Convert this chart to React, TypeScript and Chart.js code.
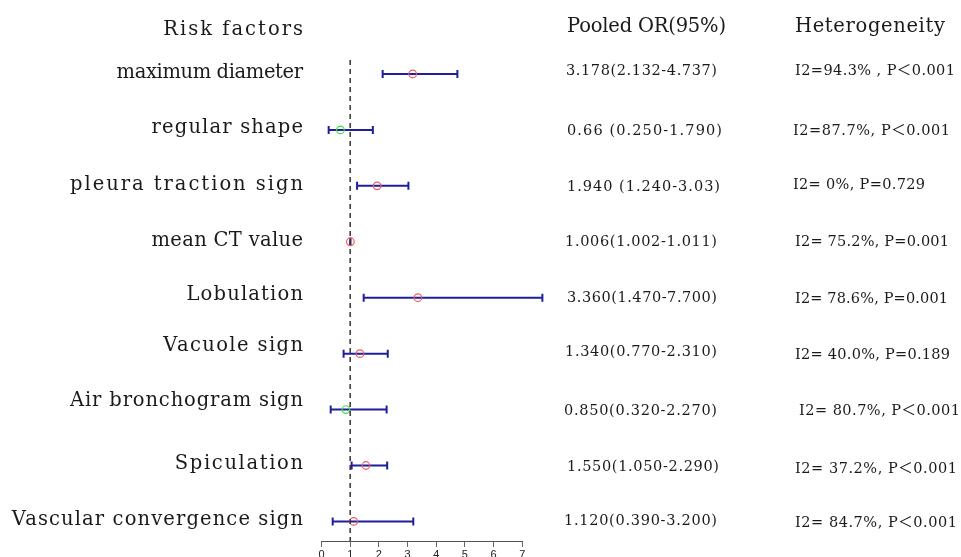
import React, { useEffect, useRef } from "react";
import { Chart, registerables } from "chart.js";

Chart.register(...registerables);

// ---- data ----
const factors = [
  "maximum diameter",
  "regular shape",
  "pleura traction sign",
  "mean CT value",
  "Lobulation",
  "Vacuole sign",
  "Air bronchogram sign",
  "Spiculation",
  "Vascular convergence sign",
];
const pooledOR = [3.178, 0.66, 1.94, 1.006, 3.36, 1.34, 0.85, 1.55, 1.12];
const lowerCI = [2.132, 0.25, 1.24, 1.002, 1.47, 0.77, 0.32, 1.05, 0.39];
const upperCI = [4.737, 1.79, 3.03, 1.011, 7.7, 2.31, 2.27, 2.29, 3.2];
const orLabels = [
  "3.178(2.132-4.737)",
  "0.66 (0.250-1.790)",
  "1.940 (1.240-3.03)",
  "1.006(1.002-1.011)",
  "3.360(1.470-7.700)",
  "1.340(0.770-2.310)",
  "0.850(0.320-2.270)",
  "1.550(1.050-2.290)",
  "1.120(0.390-3.200)",
];
const heteroLabels = [
  "I2=94.3% , P＜0.001",
  "I2=87.7%, P＜0.001",
  "I2= 0%, P=0.729",
  "I2= 75.2%, P=0.001",
  "I2= 78.6%, P=0.001",
  "I2= 40.0%, P=0.189",
  "I2= 80.7%, P＜0.001",
  "I2= 37.2%, P＜0.001",
  "I2= 84.7%, P＜0.001",
];
const headers = ["Risk factors", "Pooled OR(95%)", "Heterogeneity"];
const xMin = 0;
const xMax = 7;
const nullValue = 1;

// ---- styles / layout ----
const SERIF = '"DejaVu Serif", "Liberation Serif", "Noto Sans CJK SC", serif';
const TEXT_COLOR = "#1a1a1a";
const LABEL_RIGHT = 303;
const LABEL_CELL = 11.65;
const labelBaseOff = [4, 3, 4, 4, 2, -3, -4, 4, 4];
const orSpan: [number, number][] = [
  [566, 717], [567, 722], [567, 720], [565, 717], [567, 717],
  [565, 717], [564, 717], [567, 719], [564, 717],
];
const orBaseOff = [1, 5, 5, 4, 4, 2, 5, 6, 4];
const hetSpan: [number, number][] = [
  [795, 955], [793, 950], [793, 925], [795, 949], [795, 948],
  [795, 950], [799, 960], [795, 957], [795, 957],
];
const hetBaseOff = [1, 5, 3, 4, 5, 5, 5, 8, 6];

function drawFit(
  ctx: CanvasRenderingContext2D,
  text: string,
  x0: number,
  x1: number,
  y: number,
  font: string
) {
  ctx.save();
  ctx.font = font;
  (ctx as any).letterSpacing = "0px";
  const w = ctx.measureText(text).width;
  const n = Array.from(text).length;
  const ls = (x1 - x0 - w) / Math.max(1, n - 1);
  (ctx as any).letterSpacing = ls + "px";
  ctx.textAlign = "left";
  ctx.textBaseline = "alphabetic";
  ctx.fillStyle = TEXT_COLOR;
  ctx.fillText(text, x0, y);
  ctx.restore();
}

const whiskerPlugin = {
  id: "whiskers",
  beforeDatasetsDraw(chart: any) {
    const { ctx, scales } = chart;
    const xs = scales.x;
    const ys = scales.y;
    ctx.save();
    ctx.strokeStyle = "#1f1f9e";
    ctx.lineWidth = 2;
    for (let i = 0; i < pooledOR.length; i++) {
      const y = ys.getPixelForValue(i);
      const a = xs.getPixelForValue(lowerCI[i]);
      const b = xs.getPixelForValue(upperCI[i]);
      ctx.beginPath();
      ctx.moveTo(a, y);
      ctx.lineTo(b, y);
      ctx.moveTo(a, y - 4);
      ctx.lineTo(a, y + 4);
      ctx.moveTo(b, y - 4);
      ctx.lineTo(b, y + 4);
      ctx.stroke();
    }
    ctx.restore();
  },
};

const textPlugin = {
  id: "forestText",
  afterDraw(chart: any) {
    const { ctx, scales } = chart;
    const ys = scales.y;
    const labelFont = `19.5px ${SERIF}`;
    const headFont = `19.5px ${SERIF}`;
    const valFont = `14.5px ${SERIF}`;
    const hetFont = `14.5px ${SERIF}`;
    // headers
    drawFit(ctx, headers[0], LABEL_RIGHT - headers[0].length * LABEL_CELL, LABEL_RIGHT, 35, headFont);
    drawFit(ctx, headers[1], 567, 726, 32, headFont);
    drawFit(ctx, headers[2], 795, 945, 32, headFont);
    for (let i = 0; i < factors.length; i++) {
      const y = ys.getPixelForValue(i);
      const t = factors[i];
      drawFit(ctx, t, LABEL_RIGHT - t.length * LABEL_CELL, LABEL_RIGHT, y + labelBaseOff[i], labelFont);
      drawFit(ctx, orLabels[i], orSpan[i][0], orSpan[i][1], y + orBaseOff[i], valFont);
      drawFit(ctx, heteroLabels[i], hetSpan[i][0], hetSpan[i][1], y + hetBaseOff[i], hetFont);
    }
  },
};

export default function App() {
  const ref = useRef<HTMLCanvasElement | null>(null);
  useEffect(() => {
    if (!ref.current) return;
    const yTop = -0.25;
    const yBottom = 8.35;
    const chart = new Chart(ref.current, {
      type: "scatter",
      data: {
        datasets: [
          {
            label: "null line",
            data: [
              { x: nullValue, y: yTop },
              { x: nullValue, y: yBottom },
            ],
            showLine: true,
            borderColor: "#333333",
            borderWidth: 1.5,
            borderDash: [5, 4],
            pointRadius: 0,
          },
          {
            label: "Pooled OR",
            data: pooledOR.map((v, i) => ({ x: v, y: i })),
            pointRadius: 3.8,
            pointBorderWidth: 1.2,
            pointBackgroundColor: "rgba(0,0,0,0)",
            pointBorderColor: pooledOR.map((v) => (v < 1 ? "#3ee03e" : "#f05a5a")),
          },
        ],
      },
      options: {
        animation: false,
        responsive: false,
        layout: { padding: { left: 321.5, right: 438.7, top: 60, bottom: 0 } },
        plugins: { legend: { display: false }, tooltip: { enabled: false } },
        scales: {
          x: {
            type: "linear",
            min: xMin,
            max: xMax,
            ticks: {
              stepSize: 1,
              padding: 1,
              color: "#222",
              font: { size: 11, family: '"Liberation Sans", Arial, sans-serif' },
            },
            grid: {
              display: true,
              drawOnChartArea: false,
              drawTicks: true,
              tickLength: 6,
              color: "#666",
            },
            border: { display: true, color: "#555", width: 1 },
            afterFit(scale: any) {
              scale.height = 16;
            },
          },
          y: {
            type: "linear",
            reverse: true,
            min: yTop,
            max: yBottom,
            display: false,
          },
        },
      },
      plugins: [whiskerPlugin, textPlugin],
    });
    return () => chart.destroy();
  }, []);
  return (
    <div style={{ position: "fixed", left: 0, top: 0, width: 961, height: 557, background: "#fff", overflow: "hidden" }}>
      <canvas ref={ref} width={961} height={557} style={{ display: "block" }} />
    </div>
  );
}
